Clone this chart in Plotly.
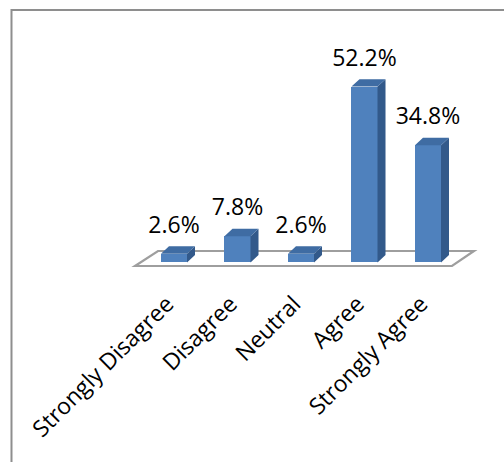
import plotly.graph_objects as go

# Survey responses (percent of respondents)
categories = ["Strongly Disagree", "Disagree", "Neutral", "Agree", "Strongly Agree"]
percentages = [2.6, 7.8, 2.6, 52.2, 34.8]
value_labels = ["2.6%", "7.8%", "2.6%", "52.2%", "34.8%"]

positions = list(range(len(categories)))

# Pseudo-3D geometry (in axis units)
BAR_W = 0.41      # front-face width
DEPTH_X = 0.126   # receding offset along x
DEPTH_Y = 2.2     # receding offset along y (percent units)
LABEL_GAP = 7.9   # distance from bar top to value label centre

FRONT = "#4F81BD"
SIDE = "#32598A"
TOP = "#3F6CA3"
FONT = "Open Sans"

fig = go.Figure()

# Front faces
fig.add_trace(go.Bar(
    x=positions, y=percentages, width=BAR_W,
    marker=dict(color=FRONT, line=dict(width=0)),
    hoverinfo="skip", showlegend=False,
))

# Side and top faces built from the same values
side_x, side_y, top_x, top_y = [], [], [], []
for xp, v in zip(positions, percentages):
    xl, xr = xp - BAR_W / 2, xp + BAR_W / 2
    side_x += [xr, xr + DEPTH_X, xr + DEPTH_X, xr, xr, None]
    side_y += [0, DEPTH_Y, v + DEPTH_Y, v, 0, None]
    top_x += [xl, xl + DEPTH_X, xr + DEPTH_X, xr, xl, None]
    top_y += [v, v + DEPTH_Y, v + DEPTH_Y, v, v, None]

fig.add_trace(go.Scatter(
    x=side_x, y=side_y, mode="lines", fill="toself",
    fillcolor=SIDE, line=dict(width=0, color=SIDE),
    hoverinfo="skip", showlegend=False,
))
fig.add_trace(go.Scatter(
    x=top_x, y=top_y, mode="lines", fill="toself",
    fillcolor=TOP, line=dict(width=0, color=TOP),
    hoverinfo="skip", showlegend=False,
))

# Value labels above each column
fig.add_trace(go.Scatter(
    x=positions, y=[v + LABEL_GAP for v in percentages],
    mode="text", text=value_labels, textposition="middle center",
    textfont=dict(family=FONT, size=23, color="#000000"),
    hoverinfo="skip", showlegend=False,
))

# Floor of the 3D plot area
floor = dict(front_l=-0.614, front_r=4.378, back_l=-0.252, back_r=4.724,
             front_y=-1.04, back_y=3.41)
fig.add_shape(
    type="path", xref="x", yref="y", layer="below",
    path=(f"M {floor['front_l']},{floor['front_y']} "
          f"L {floor['front_r']},{floor['front_y']} "
          f"L {floor['back_r']},{floor['back_y']} "
          f"L {floor['back_l']},{floor['back_y']} Z"),
    line=dict(color="#9E9E9E", width=2.2), fillcolor="white",
)

# Chart border
fig.add_shape(
    type="rect", xref="paper", yref="paper",
    x0=0.0228, x1=1.05, y0=-0.75, y1=0.9649,
    line=dict(color="#8E8E8E", width=2), fillcolor="rgba(0,0,0,0)",
)

fig.update_layout(
    width=504, height=462,
    margin=dict(l=0, r=0, t=0, b=177),
    paper_bgcolor="white", plot_bgcolor="white",
    bargap=0, showlegend=False,
    xaxis=dict(
        range=[-2.740, 5.197], tickmode="array",
        tickvals=positions, ticktext=categories, tickangle=-45,
        tickfont=dict(family=FONT, size=23, color="#000000"),
        ticklabelshift=-7,
        showgrid=False, zeroline=False, showline=False, ticks="",
        fixedrange=True,
    ),
    yaxis=dict(
        range=[-6.68, 77.9], visible=False, fixedrange=True,
    ),
)

fig.write_html("out.html")
